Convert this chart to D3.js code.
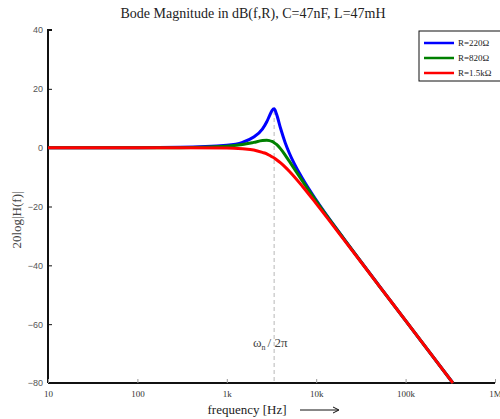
<!DOCTYPE html>
<html>
<head>
<meta charset="utf-8">
<script src="https://cdn.jsdelivr.net/npm/d3@7"></script>
<style>
  body { margin: 0; background: #fff; }
  svg { display: block; }
</style>
</head>
<body>
<svg id="chart" width="500" height="419"></svg>
<script>
// Bode magnitude, values
var freqs = [10, 100, 300, 1000, 1500, 2000, 2500, 2800, 3000, 3200, 3386, 3600, 4000, 4500, 5000, 7000, 10000, 20000, 50000, 100000, 338600];
var db220 = [0, 0, 0.1, 0.8, 1.8, 3.6, 6.3, 8.8, 10.8, 12.6, 13.2, 11.4, 6.5, 1.7, -1.8, -10.4, -17.8, -30.6, -46.7, -58.8, -80];
var db820 = [0, 0, 0, 0.5, 1.1, 1.8, 2.4, 2.5, 2.4, 2.1, 1.7, 1.1, -0.4, -2.5, -4.6, -11.3, -18.2, -30.7, -46.8, -58.8, -80];
var db1k5 = [0, 0, 0, -0.1, -0.4, -0.8, -1.6, -2.1, -2.6, -3.1, -3.5, -4.1, -5.2, -6.6, -8.0, -13.1, -19.0, -30.9, -46.8, -58.8, -80];
var seriesNames = ["R=220\u03A9", "R=820\u03A9", "R=1.5k\u03A9"];
var seriesColors = ["#0000ff", "#008000", "#ff0000"];
var xTicks = [10, 100, 1000, 10000, 100000, 1000000];
var xTickLabels = ["10", "100", "1k", "10k", "100k", "1M"];
var yTicks = [40, 20, 0, -20, -40, -60, -80];
var fRes = 3386;

var series = [db220, db820, db1k5];

var svg = d3.select("#chart");
var pl = 48, pr = 495, pt = 30, pb = 383;

var sx = d3.scaleLog().domain([10, 1e6]).range([pl, pr]);
var sy = d3.scaleLinear().domain([-80, 40]).range([pb, pt]);

// title
svg.append("text")
  .attr("x", 253).attr("y", 18)
  .attr("text-anchor", "middle")
  .style("font-family", "'Liberation Serif', 'Times New Roman', serif")
  .style("font-size", "14px")
  .style("fill", "#222")
  .text("Bode Magnitude in dB(f,R), C=47nF, L=47mH");

// resonance marker
svg.append("line")
  .attr("x1", sx(fRes)).attr("x2", sx(fRes))
  .attr("y1", sy(12.5)).attr("y2", pb)
  .style("stroke", "#c8c8c8")
  .style("stroke-width", 1.3)
  .style("stroke-dasharray", "4,3");

// axes
var yAxis = d3.axisRight(sy).tickValues(yTicks).tickSize(4).tickFormat(d3.format("d"));
var gy = svg.append("g").attr("transform", "translate(" + pl + ",0)").call(yAxis);
gy.select(".domain").attr("d", "M4," + pt + "H0V" + pb).style("stroke-width", 2).style("stroke", "#111");
gy.selectAll(".tick line").style("stroke", "#111");
gy.selectAll(".tick text")
  .attr("x", -5).attr("text-anchor", "end")
  .style("font-family", "'Liberation Sans', Arial, sans-serif")
  .style("font-size", "9px").style("fill", "#555");

var xAxis = d3.axisTop(sx).tickValues(xTicks).tickSize(4)
  .tickFormat(function(d, i) { return xTickLabels[i]; });
var gx = svg.append("g").attr("transform", "translate(0," + pb + ")").call(xAxis);
gx.select(".domain").attr("d", "M" + pl + ",0H" + pr).style("stroke-width", 2).style("stroke", "#111");
gx.selectAll(".tick line").style("stroke", "#999");
gx.selectAll(".tick text")
  .attr("y", 14).attr("dy", 0)
  .style("font-family", "'Liberation Serif', 'Times New Roman', serif")
  .style("font-size", "9px").style("fill", "#333");

// curves
var line = d3.line()
  .x(function(d) { return sx(d[0]); })
  .y(function(d) { return sy(d[1]); })
  .curve(d3.curveMonotoneX);

series.forEach(function(s, i) {
  svg.append("path")
    .datum(freqs.map(function(f, j) { return [f, s[j]]; }))
    .attr("d", line)
    .style("fill", "none")
    .style("stroke", seriesColors[i])
    .style("stroke-width", 3)
    .style("stroke-linejoin", "round");
});

// axis labels
svg.append("text")
  .attr("transform", "translate(21,220) rotate(-90)")
  .attr("text-anchor", "middle")
  .style("font-family", "'Liberation Serif', 'Times New Roman', serif")
  .style("font-size", "13px").style("fill", "#444")
  .text("20log|H(f)|");

svg.append("text")
  .attr("x", 247).attr("y", 414)
  .attr("text-anchor", "middle")
  .style("font-family", "'Liberation Serif', 'Times New Roman', serif")
  .style("font-size", "13px").style("fill", "#222")
  .text("frequency [Hz]");

svg.append("line")
  .attr("x1", 300).attr("x2", 338).attr("y1", 410).attr("y2", 410)
  .style("stroke", "#111").style("stroke-width", 1);
svg.append("path")
  .attr("d", "M333,407L339,410L333,413")
  .style("fill", "none").style("stroke", "#111").style("stroke-width", 1);

// omega_n / 2pi label
var wl = svg.append("text")
  .attr("x", 253).attr("y", 347)
  .style("font-family", "'Liberation Serif', 'Times New Roman', serif")
  .style("font-size", "13px").style("fill", "#444");
wl.append("tspan").text("\u03C9");
wl.append("tspan").attr("dy", 3).style("font-size", "8px").text("n");
wl.append("tspan").attr("dy", -3).attr("dx", 2).text("/ 2\u03C0");

// legend
var lg = svg.append("g").attr("transform", "translate(419,31)");
lg.append("rect")
  .attr("width", 84).attr("height", 50)
  .style("fill", "#fff").style("stroke", "#111").style("stroke-width", 1);
seriesNames.forEach(function(n, i) {
  lg.append("line")
    .attr("x1", 5).attr("x2", 35)
    .attr("y1", 12 + i * 15).attr("y2", 12 + i * 15)
    .style("stroke", seriesColors[i]).style("stroke-width", 2.5);
  lg.append("text")
    .attr("x", 39).attr("y", 15 + i * 15)
    .style("font-family", "'Liberation Serif', 'Times New Roman', serif")
    .style("font-size", "9px").style("fill", "#222")
    .text(n);
});
</script>
</body>
</html>
